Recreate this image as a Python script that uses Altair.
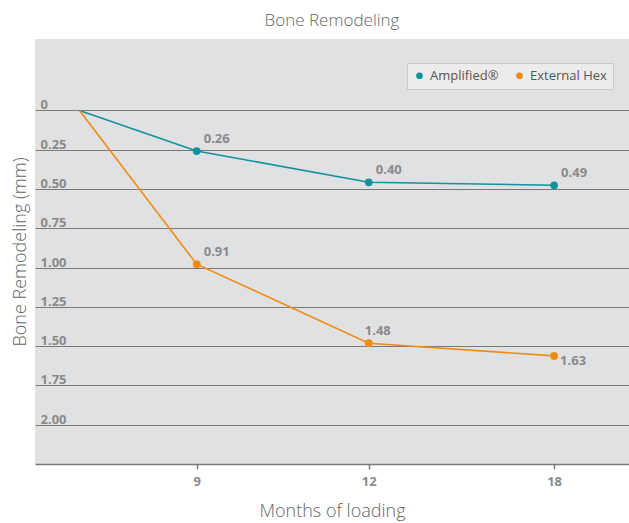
import altair as alt
import pandas as pd

# ---- data ----
months = [0, 9, 12, 18]
x_slot = [0.0, 1.0, 2.468, 4.05]          # horizontal slot of each month on the drawing
series_names = ["Amplified®", "External Hex"]
amplified_plot = [0.0, 0.258, 0.457, 0.476]   # plotted depth (mm), as drawn
external_plot = [0.0, 0.978, 1.481, 1.562]
amplified_labels = ["", "0.26", "0.40", "0.49"]
external_labels = ["", "0.91", "1.48", "1.63"]
y_ticks = [0, 0.25, 0.5, 0.75, 1.0, 1.25, 1.5, 1.75, 2.0]
colors = ["#12929d", "#f28a14"]

rows = []
for name, vals, labs in [(series_names[0], amplified_plot, amplified_labels),
                         (series_names[1], external_plot, external_labels)]:
    for m, xs, v, lab in zip(months, x_slot, vals, labs):
        rows.append({"series": name, "month": m, "xs": xs, "depth": v, "label": lab})
df = pd.DataFrame(rows)

# x axis label expression built from the month/slot arrays
expr = "''"
for m, xs in reversed(list(zip(months[1:], x_slot[1:]))):
    expr = f"abs(datum.value - {xs}) < 0.01 ? '{m}' : " + expr

GRAY = "#8a8a8a"
FONT = "Open Sans"

x_enc = alt.X("xs:Q",
              scale=alt.Scale(domain=[-0.38, 4.689], nice=False, zero=False),
              axis=alt.Axis(values=x_slot[1:], labelExpr=expr, title="Months of loading",
                            grid=False, domainColor="#7a7a7a", domainWidth=1.5,
                            tickColor="#7a7a7a", tickWidth=1.5, tickSize=5,
                            labelPadding=6, labelFont=FONT, labelFontSize=13,
                            labelFontWeight="bold", labelColor=GRAY,
                            titleFont=FONT, titleFontSize=18, titleFontWeight=300,
                            titleColor="#666666", titleY=52, titleBaseline="alphabetic"))
y_enc = alt.Y("depth:Q",
              scale=alt.Scale(domain=[-0.455, 2.25], reverse=True, nice=False, zero=False),
              axis=alt.Axis(values=y_ticks,
                            labelExpr="datum.value == 0 ? '0' : format(datum.value, '.2f')",
                            title="Bone Remodeling (mm)", domain=False, ticks=False,
                            tickSize=0, labelPadding=-5, labelAlign="left",
                            labelBaseline="alphabetic", labelOffset=-1.5,
                            labelFlush=False, labelOverlap=False,
                            labelFont=FONT, labelFontSize=13, labelFontWeight="bold",
                            labelColor=GRAY, gridColor="#7a7a7a", gridWidth=1,
                            titleFont=FONT, titleFontSize=18, titleFontWeight=300,
                            titleColor="#666666", titleAngle=270, titleX=-15,
                            titleY=212.5, titleAlign="center", titleBaseline="middle"))

legend = alt.Legend(title=None, orient="none", legendX=372, legendY=24,
                    direction="horizontal", fillColor="#ececec",
                    strokeColor="#c8c8c8", padding=6,
                    symbolType="circle", symbolSize=45, symbolStrokeWidth=0,
                    labelFont=FONT, labelFontSize=13,
                    labelColor="#555555", labelOffset=4, columnPadding=14)
color_enc = alt.Color("series:N", scale=alt.Scale(domain=series_names, range=colors),
                      legend=legend)

base = alt.Chart(df)

points = base.transform_filter("datum.month > 0").mark_circle(size=60, opacity=1).encode(
    x=x_enc, y=y_enc, color=color_enc,
)

lines = base.mark_line(strokeWidth=1.6).encode(
    x="xs:Q", y="depth:Q", color=color_enc, detail="series:N",
)

text_style = dict(align="left", baseline="alphabetic", font=FONT, fontSize=13,
                  fontWeight="bold", color=GRAY)

labels_main = base.transform_filter(
    "datum.month > 0 && datum.label != '1.48' && datum.label != '1.63'"
).mark_text(dx=7, dy=-8, **text_style).encode(x="xs:Q", y="depth:Q", text="label:N")

labels_left = base.transform_filter("datum.label == '1.48'").mark_text(
    dx=-4, dy=-8, **text_style).encode(x="xs:Q", y="depth:Q", text="label:N")

labels_below = base.transform_filter("datum.label == '1.63'").mark_text(
    dx=6, dy=9, **text_style).encode(x="xs:Q", y="depth:Q", text="label:N")

chart = alt.layer(points, lines, labels_main, labels_left, labels_below).properties(
    width=594, height=425,
    title=alt.TitleParams("Bone Remodeling", font=FONT, fontSize=17, fontWeight=300,
                          color="#666666", anchor="middle", frame="group", offset=9),
    autosize=alt.AutoSizeParams(type="none"),
    padding={"left": 35, "top": 39, "right": 0, "bottom": 59},
    view=alt.ViewBackground(fill="#e0e1e3", stroke=None),
).configure(background="white")

chart.save("out.html", embed_options={"renderer": "svg", "actions": False})
